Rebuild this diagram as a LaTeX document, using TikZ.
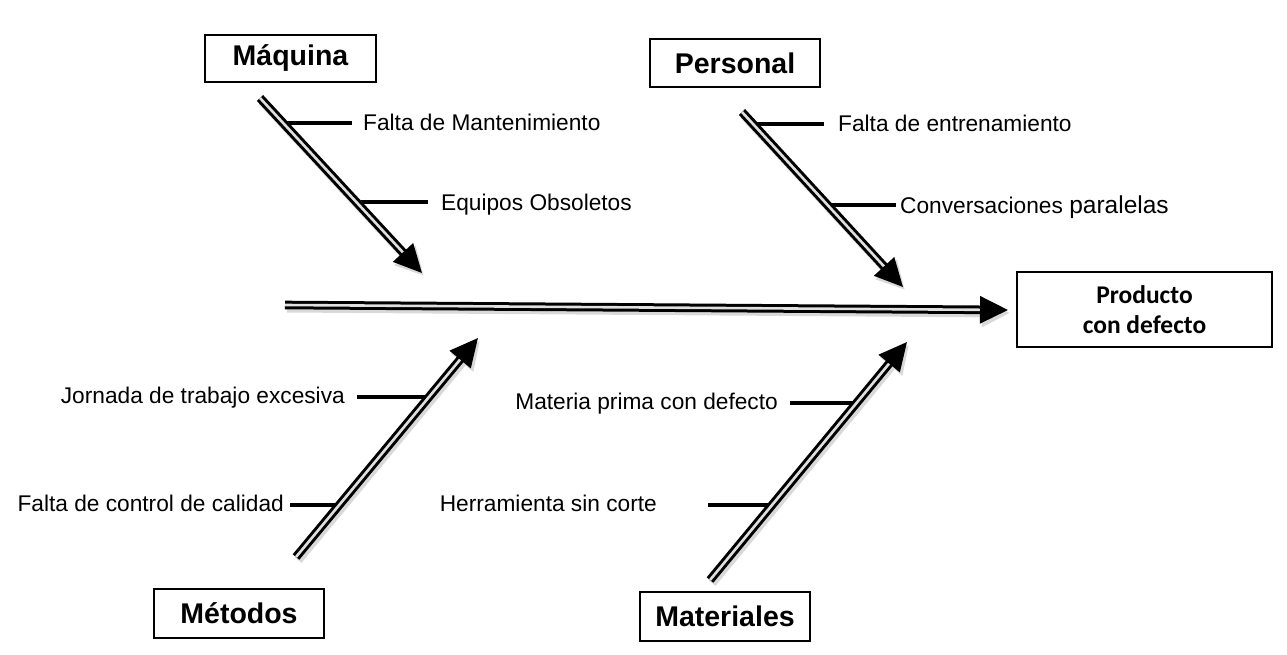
\documentclass[tikz,border=0pt]{standalone}
\usepackage{fontspec}
\setmainfont{Liberation Sans}
\newfontfamily\calfont{Carlito}
\usetikzlibrary{arrows.meta}

\tikzset{
  bone/.style={line width=3pt, double=gray!25, double distance=2.6pt,
    -{Triangle[length=28pt,width=27pt]},
    preaction={draw=black!15, line width=9pt, transform canvas={shift={(2,3)}}}},
  rib/.style={line width=3.2pt},
  catbox/.style={draw, line width=1.2pt, minimum width=170pt, minimum height=48pt,
    font=\fontsize{28.5}{32}\selectfont\bfseries},
  cause/.style={inner sep=0pt, font=\fontsize{22.7}{27}\selectfont},
}

\begin{document}
\begin{tikzpicture}[x=1pt, y=-1pt]
  \useasboundingbox (0,0) rectangle (1287,655);

  % Effect
  \node[draw, line width=1.2pt, minimum width=255pt, minimum height=75pt, align=center,
        font=\calfont\bfseries\fontsize{25.5}{30}\selectfont] (prod) at (1144.5,309.5) {Producto\\con defecto};

  % Categories
  \node[catbox, minimum width=171pt, minimum height=47pt] (maq) at (290.5,58.5) {Máquina};
  \node[catbox] (per) at (735,63) {Personal};
  \node[catbox, minimum height=49pt] (met) at (239,613.5) {Métodos};
  \node[catbox, minimum height=49pt] (mat) at (725,616.5) {Materiales};

  % Causes
  \node[cause, anchor=base west] (c1) at (363,131) {Falta de Mantenimiento};
  \node[cause, anchor=base west] (c2) at (441,211) {Equipos Obsoletos};
  \node[cause, anchor=base west] (c3) at (838,132) {Falta de entrenamiento};
  \node[cause, anchor=base west] (c4) at (900,214) {Conversaciones {\fontsize{24.5}{27}\selectfont paralelas}};
  \node[cause, anchor=base east] (c5) at (345,403) {Jornada de trabajo excesiva};
  \node[cause, anchor=base east] (c6) at (284,511) {Falta de control de calidad};
  \node[cause, anchor=base east] (c7) at (778,409) {Materia prima con defecto};
  \node[cause, anchor=base east] (c8) at (657,511) {Herramienta sin corte};

  % Bone ends
  \coordinate (sp0) at (285,305);
  \coordinate (sp1) at (1008,310);
  \coordinate (mq0) at (260,98);
  \coordinate (mq1) at (422,273);
  \coordinate (pe0) at (742,112);
  \coordinate (pe1) at (903,287);
  \coordinate (me0) at (296,557);
  \coordinate (me1) at (478,338);
  \coordinate (ma0) at (710,580);
  \coordinate (ma1) at (907,342);

  % Ribs
  \coordinate (r1a) at (283,123); \coordinate (r1b) at (352,123);
  \coordinate (r2a) at (356,202); \coordinate (r2b) at (428,202);
  \coordinate (r3a) at (753,124); \coordinate (r3b) at (824,124);
  \coordinate (r4a) at (828,205); \coordinate (r4b) at (896,205);
  \coordinate (r5a) at (429,397); \coordinate (r5b) at (357,397);
  \coordinate (r6a) at (339,505); \coordinate (r6b) at (290,505);
  \coordinate (r7a) at (857,403); \coordinate (r7b) at (790,403);
  \coordinate (r8a) at (772,505); \coordinate (r8b) at (708,505);
  \foreach \r in {1,...,8}
    \draw[rib] (r\r a) -- (r\r b);

  % Bones
  \draw[bone] (sp0) -- (sp1);
  \draw[bone] (mq0) -- (mq1);
  \draw[bone] (pe0) -- (pe1);
  \draw[bone] (me0) -- (me1);
  \draw[bone] (ma0) -- (ma1);
\end{tikzpicture}
\end{document}
